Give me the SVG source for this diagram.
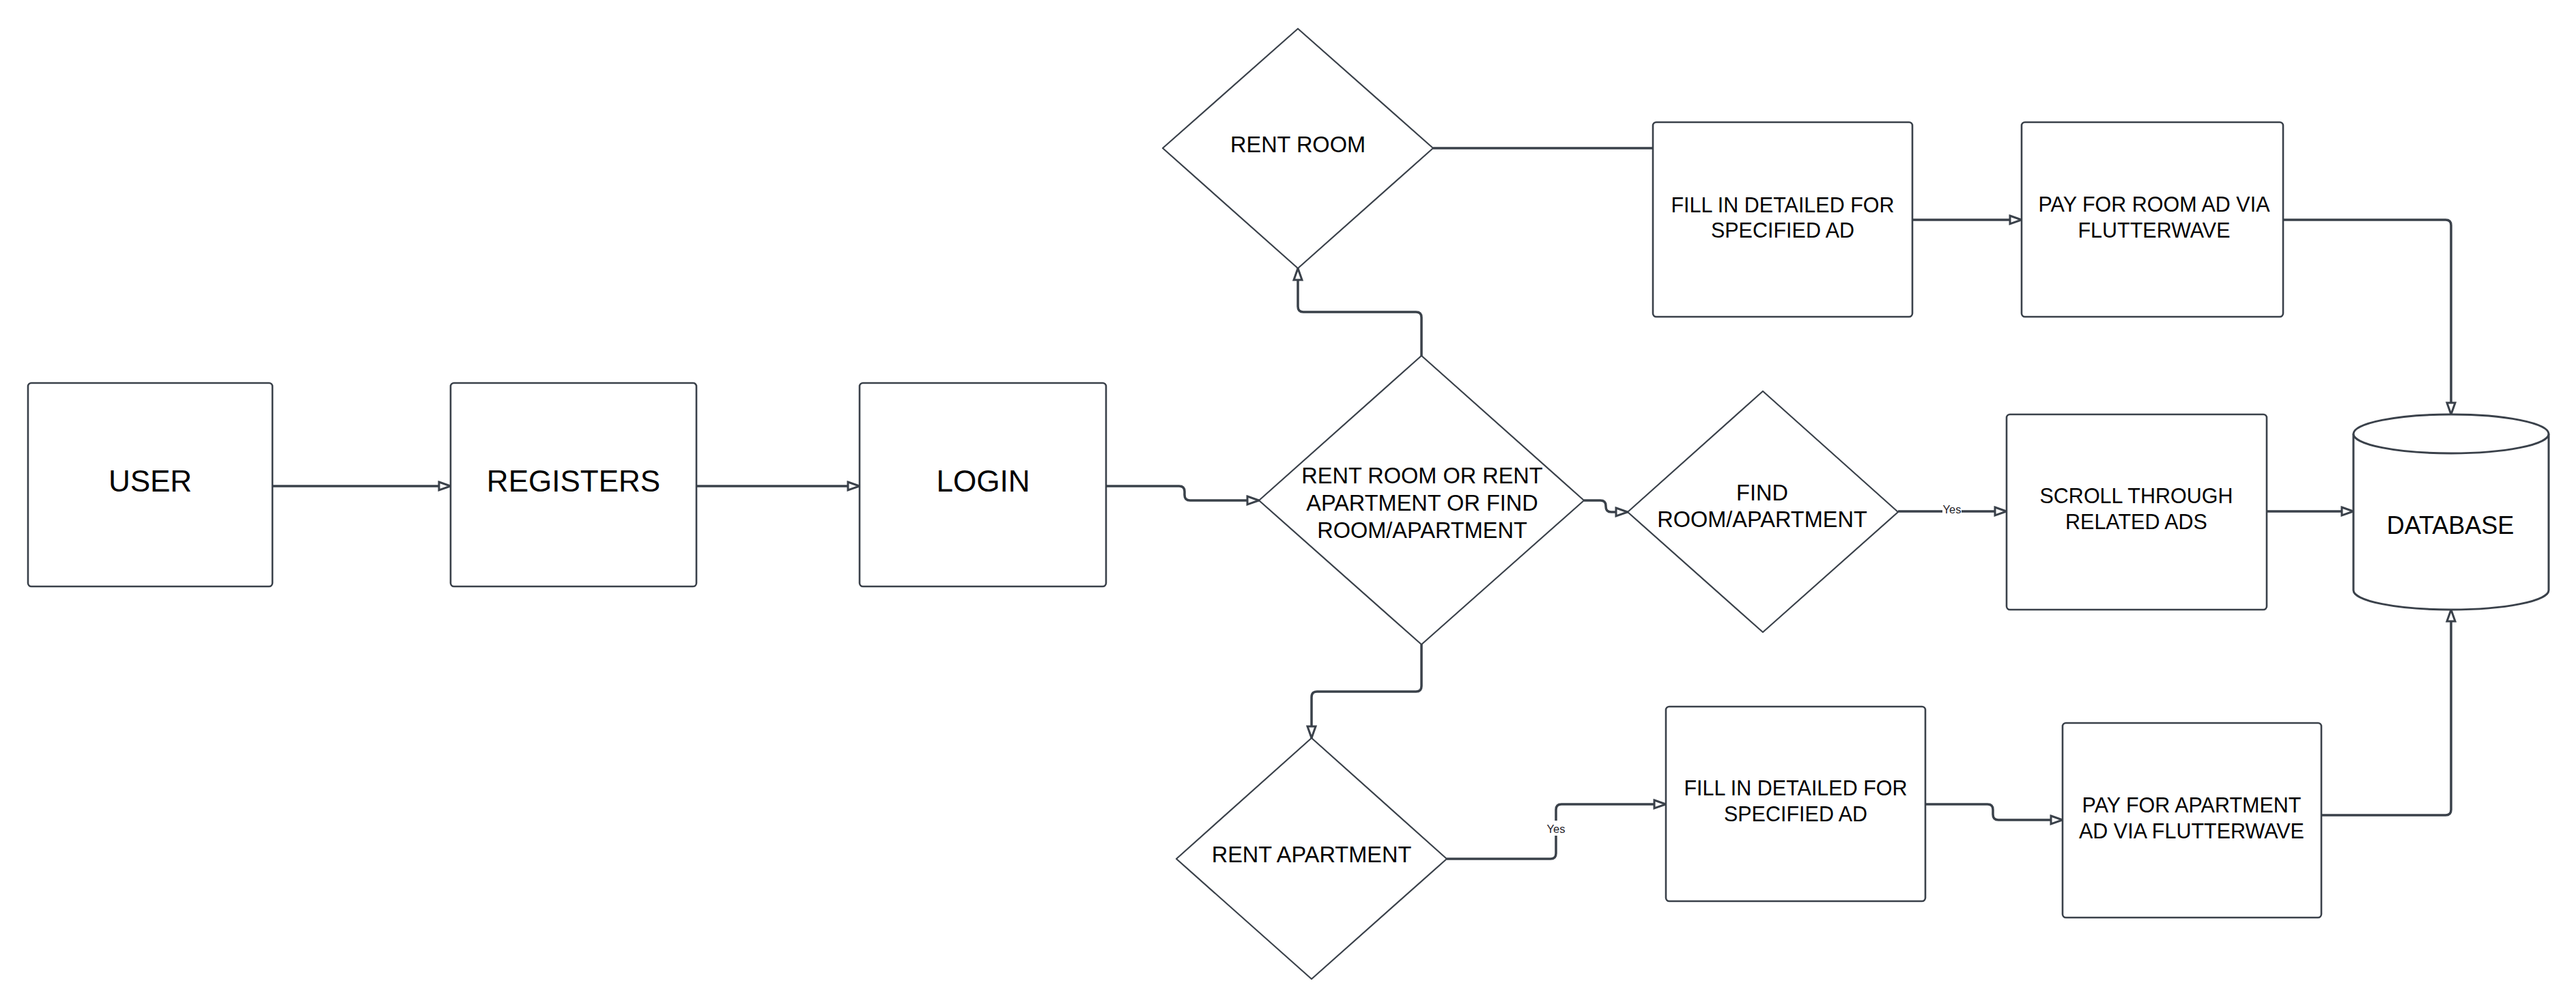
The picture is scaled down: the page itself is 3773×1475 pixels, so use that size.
<svg xmlns="http://www.w3.org/2000/svg" width="3773" height="1475" viewBox="0 0 3773 1475">
<style>
.box{fill:#fff;stroke:#3a414a;stroke-width:2.6}
.dia{fill:#fff;stroke:#3a414a;stroke-width:2.2;stroke-linejoin:round}
.db{fill:#fff;stroke:#3a414a;stroke-width:3}
.con{fill:none;stroke:#3a414a;stroke-width:3.5}
.arr{marker-end:url(#ah)}
text{font-family:"Liberation Sans",Arial,sans-serif;fill:#000;text-anchor:middle}
.big{font-size:44px}
.mid{font-size:30.5px}
.dtx{font-size:32.5px}
.dbt{font-size:36px}
.lbl{font-size:16.5px;fill:#1f2329}
.lblbg{fill:#fff}
</style>
<defs>
<marker id="ah" markerUnits="userSpaceOnUse" markerWidth="24" markerHeight="20" refX="19" refY="8" orient="auto" viewBox="0 0 24 16">
<path d="M2,2 L19,8 L2,14 Z" fill="#fff" stroke="#3a414a" stroke-width="3" stroke-linejoin="miter"/>
</marker>
</defs>
<rect width="3773" height="1475" fill="#fff"/>
<g id="connectors">
<path class="con arr" d="M399,712 H660"/>
<path class="con arr" d="M1020,712 H1259"/>
<path class="con arr" d="M1620,712 H1727 Q1735,712 1735,720 V725 Q1735,733 1743,733 H1844"/>
<path class="con arr" d="M2320,733 H2344 Q2352,733 2352,741 V742 Q2352,750 2360,750 H2384"/>
<path class="con arr" d="M2082,521 V465 Q2082,457 2074,457 H1909 Q1901,457 1901,449 V393"/>
<path class="con" d="M2099,217 H2421"/>
<path class="con arr" d="M2801,322 H2961"/>
<path class="con arr" d="M3344,322 H3582 Q3590,322 3590,330 V607"/>
<path class="con arr" d="M2780,749 H2939"/>
<path class="con arr" d="M3320,749 H3447"/>
<path class="con arr" d="M2082,944 V1005 Q2082,1013 2074,1013 H1929 Q1921,1013 1921,1021 V1081"/>
<path class="con arr" d="M2119,1258 H2271 Q2279,1258 2279,1250 V1186 Q2279,1178 2287,1178 H2440"/>
<path class="con arr" d="M2820,1178 H2911 Q2919,1178 2919,1186 V1193 Q2919,1201 2927,1201 H3021"/>
<path class="con arr" d="M3400,1194 H3582 Q3590,1194 3590,1186 V893"/>
<rect class="lblbg" x="2845" y="737" width="28" height="20"/>
<text class="lbl" x="2859" y="752">Yes</text>
<rect class="lblbg" x="2264" y="1202" width="30" height="22"/>
<text class="lbl" x="2279" y="1220">Yes</text>
</g>
<g id="user">
<rect class="box" x="41" y="561" width="358" height="298" rx="5"/>
<text class="big" x="220" y="720">USER</text>
</g>
<g id="registers">
<rect class="box" x="660" y="561" width="360" height="298" rx="5"/>
<text class="big" x="840" y="720">REGISTERS</text>
</g>
<g id="login">
<rect class="box" x="1259" y="561" width="361" height="298" rx="5"/>
<text class="big" x="1440" y="720">LOGIN</text>
</g>
<g id="choice">
<polygon class="dia" points="2082,521 2320,733 2082,944 1844,733"/>
<text class="dtx" x="2083" y="708">RENT ROOM OR RENT</text>
<text class="dtx" x="2083" y="748">APARTMENT OR FIND</text>
<text class="dtx" x="2083" y="788">ROOM/APARTMENT</text>
</g>
<g id="rent-room">
<polygon class="dia" points="1901,42 2099,217 1901,393 1703,217"/>
<text class="dtx" x="1901" y="223">RENT ROOM</text>
</g>
<g id="fill-room">
<rect class="box" x="2421" y="179" width="380" height="285" rx="5"/>
<text class="mid" x="2611" y="311">FILL IN DETAILED FOR</text>
<text class="mid" x="2611" y="348">SPECIFIED AD</text>
</g>
<g id="pay-room">
<rect class="box" x="2961" y="179" width="383" height="285" rx="5"/>
<text class="mid" x="3155" y="310">PAY FOR ROOM AD VIA</text>
<text class="mid" x="3155" y="348">FLUTTERWAVE</text>
</g>
<g id="find">
<polygon class="dia" points="2582,573 2780,750 2582,926 2384,750"/>
<text class="dtx" x="2581" y="733">FIND</text>
<text class="dtx" x="2581" y="772">ROOM/APARTMENT</text>
</g>
<g id="scroll">
<rect class="box" x="2939" y="607" width="381" height="286" rx="5"/>
<text class="mid" x="3129" y="737">SCROLL THROUGH</text>
<text class="mid" x="3129" y="775">RELATED ADS</text>
</g>
<g id="database">
<path class="db" d="M3447,635.5 V864.5 A143,28.5 0 0 0 3733,864.5 V635.5"/>
<ellipse class="db" cx="3590" cy="635.5" rx="143" ry="28.5"/>
<text class="dbt" x="3589" y="782">DATABASE</text>
</g>
<g id="rent-apartment">
<polygon class="dia" points="1921,1081 2119,1258 1921,1434 1723,1258"/>
<text class="dtx" x="1921" y="1263">RENT APARTMENT</text>
</g>
<g id="fill-apartment">
<rect class="box" x="2440" y="1035" width="380" height="285" rx="5"/>
<text class="mid" x="2630" y="1165">FILL IN DETAILED FOR</text>
<text class="mid" x="2630" y="1203">SPECIFIED AD</text>
</g>
<g id="pay-apartment">
<rect class="box" x="3021" y="1059" width="379" height="285" rx="5"/>
<text class="mid" x="3210" y="1190">PAY FOR APARTMENT</text>
<text class="mid" x="3210" y="1228">AD VIA FLUTTERWAVE</text>
</g>
</svg>
